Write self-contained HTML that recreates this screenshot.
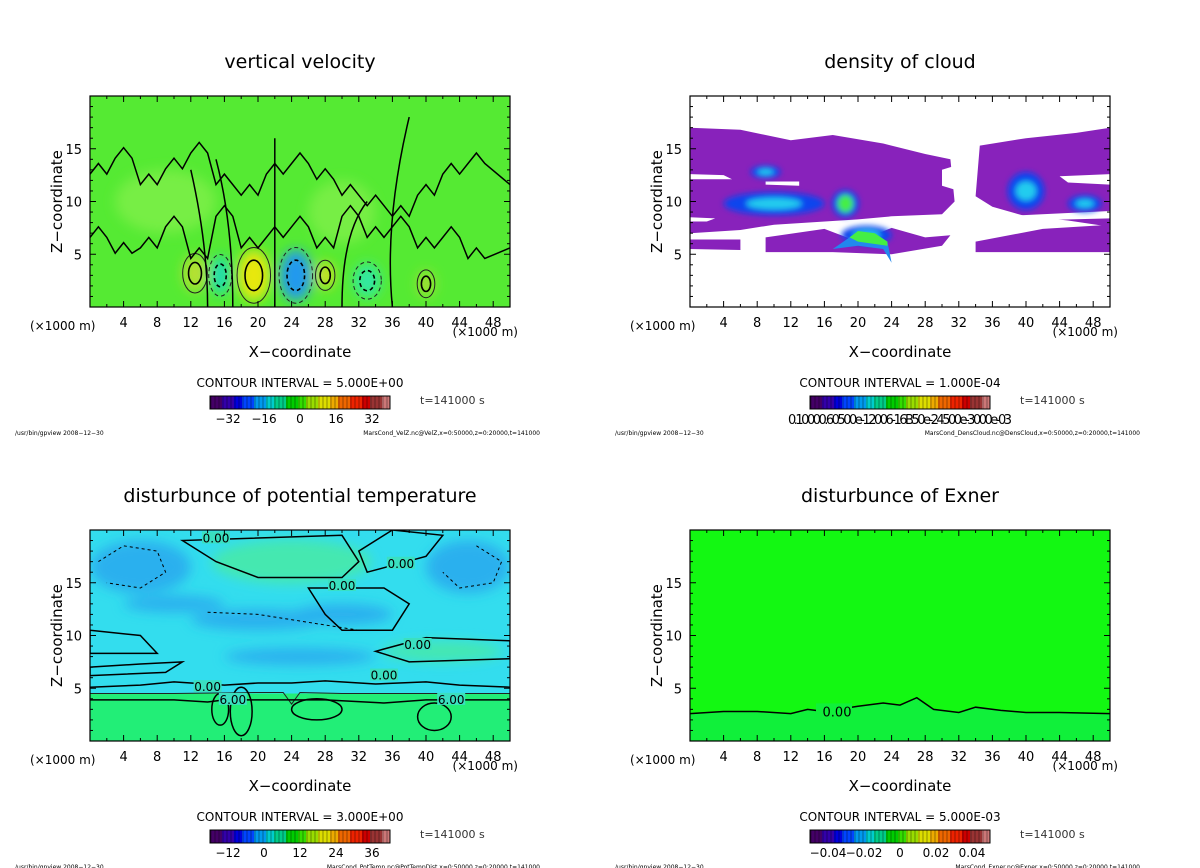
<!DOCTYPE html>
<html><head><meta charset="utf-8"><style>
html,body{margin:0;padding:0;background:#fff;}
svg{display:block;font-family:"DejaVu Sans","Liberation Sans",sans-serif;}
</style></head><body>
<svg id="fig" width="1200" height="868" viewBox="0 0 1200 868" xmlns="http://www.w3.org/2000/svg">
<defs>
<filter id="blur6" x="-50%" y="-50%" width="200%" height="200%"><feGaussianBlur stdDeviation="6"/></filter>
<filter id="blur3" x="-50%" y="-50%" width="200%" height="200%"><feGaussianBlur stdDeviation="3"/></filter>
<clipPath id="c0"><rect x="90" y="96" width="420" height="211"/></clipPath>
<clipPath id="c1"><rect x="690" y="96" width="420" height="211"/></clipPath>
<clipPath id="c2"><rect x="90" y="530" width="420" height="211"/></clipPath>
<clipPath id="c3"><rect x="690" y="530" width="420" height="211"/></clipPath>
</defs>
</svg>
<script>
// ---- data ----
const xTicks=[4,8,12,16,20,24,28,32,36,40,44,48];
const zTicks=[5,10,15];
const panelTitles=["vertical velocity","density of cloud","disturbunce of potential temperature","disturbunce of Exner"];
const intervals=["5.000E+00","1.000E-04","3.000E+00","5.000E-03"];
const cbLabels=[["−32","−16","0","16","32"],["0.10000.60500e-12006-16B50e-24500e-3000e-03"],["−12","0","12","24","36"],["−0.04","−0.02","0","0.02","0.04"]];
const files=["MarsCond_VelZ.nc@VelZ,x=0:50000,z=0:20000,t=141000","MarsCond_DensCloud.nc@DensCloud,x=0:50000,z=0:20000,t=141000","MarsCond_PotTemp.nc@PotTempDist,x=0:50000,z=0:20000,t=141000","MarsCond_Exner.nc@Exner,x=0:50000,z=0:20000,t=141000"];
// velocity blobs: x km, z km, rx km, rz km, color
const velBlobX=[12.5,19.5,28,40,15.5,24.5,33,9,30];
const velBlobZ=[3.2,3.0,3.0,2.2,3.0,3.0,2.5,10,9];
const velBlobRX=[1.4,1.9,1.1,1.0,1.3,1.9,1.6,6,4];
const velBlobRZ=[1.7,2.4,1.3,1.2,1.8,2.4,1.6,3,3];
const velBlobC=["#b8e030","#e8e810","#d0e020","#a8e030","#22ddaa","#2299ee","#33e8a0","#77ee44","#77ee44"];
// cloud
const cloudBands=[[[0,17],[6,16.8],[12,15.8],[17,16.3],[23,15.5],[28,14.5],[31,14],[31.5,10],[30,8.8],[24,8.6],[20,8.3],[10,7.8],[6,7.3],[0,7]],
 [[34.5,15.3],[40,16],[46,16.5],[50,17],[50,7.6],[45,8.2],[40,8.6],[36,9.5],[34,10.5]],
 [[0,6.4],[6,6.4],[6,5.4],[0,5.5]],[[9,6.6],[16,7.4],[20,6.2],[24,7.5],[28,6.6],[31,6.8],[30,5.8],[24,5],[17,5.2],[9,5.2]],
 [[34,6.2],[42,7.4],[50,7.8],[50,5.2],[34,5.2]]];
const cloudBlueX=[10,18.5,21,40,47,9];
const cloudBlueZ=[9.8,9.8,6.8,11,9.8,12.8];
const cloudBlueRX=[6,1.6,3,2.2,2,1.8];
const cloudBlueRZ=[1.1,1.3,0.9,1.8,0.8,0.6];
// potential temperature patches
const ptBlueX=[6,45,20,25,10,30];
const ptBlueZ=[16.5,16.5,11.5,8,13,12];
const ptBlueRX=[6,5,8,9,6,6];
const ptBlueRZ=[2.5,2.5,1,0.8,0.8,1];
// exner 0 contour
const exX=[0,4,8,12,14,16,20,23,25,27,29,32,34,37,40,44,50];
const exZ=[2.6,2.8,2.8,2.6,3.0,2.8,3.3,3.6,3.4,4.1,3.0,2.7,3.2,2.9,2.7,2.7,2.6];

const NS="http://www.w3.org/2000/svg";
const svg=document.getElementById('fig');
function mk(tag,attrs,parent){const e=document.createElementNS(NS,tag);for(const k in attrs)e.setAttribute(k,attrs[k]);(parent||svg).appendChild(e);return e;}
const PX=[90,690,90,690],PY=[96,96,530,530],W=420,H=211;
function sx(p,v){return PX[p]+v/50*W;}
function sz(p,v){return PY[p]+H-v/20*H;}
function poly(p,pts){return pts.map((q,i)=>(i?'L':'M')+sx(p,q[0]).toFixed(1)+','+sz(p,q[1]).toFixed(1)).join('')+'Z';}
function line(p,xs,zs){return xs.map((x,i)=>(i?'L':'M')+sx(p,x).toFixed(1)+','+sz(p,zs[i]).toFixed(1)).join('');}

for(let p=0;p<4;p++){
  const g=mk('g',{});
  
  
  const cx=PX[p]+W/2, dy=PY[p]-96;
  const t=mk('text',{x:cx,y:68+dy,'text-anchor':'middle','font-size':19},g);t.textContent=panelTitles[p];
  
  const pg=mk('g',{'clip-path':'url(#c'+p+')'},g);
  
  if(p===0){
    mk('rect',{x:PX[p],y:PY[p],width:W,height:H,fill:'#55ea33'},pg);
    const bg=mk('g',{filter:'url(#blur6)'},pg);
    velBlobX.forEach((x,i)=>{const e=mk('ellipse',{cx:sx(p,x),cy:sz(p,velBlobZ[i]),rx:velBlobRX[i]*W/50,ry:velBlobRZ[i]*H/20,fill:velBlobC[i]},bg);
      });
    velBlobX.slice(0,7).forEach((x,i)=>{
      mk('ellipse',{cx:sx(p,x),cy:sz(p,velBlobZ[i]),rx:velBlobRX[i]*W/50*1.05,ry:velBlobRZ[i]*H/20*1.1,fill:'none',stroke:'#222','stroke-width':1,'stroke-dasharray':i>=4?'4,3':''},pg);
      mk('ellipse',{cx:sx(p,x),cy:sz(p,velBlobZ[i]),rx:velBlobRX[i]*W/50*0.55,ry:velBlobRZ[i]*H/20*0.6,fill:'none',stroke:'#000','stroke-width':1.6,'stroke-dasharray':i>=4?'4,3':''},pg);
    });
    const lz=[[13,14.5,12,13.5,15,12,11,13,14,12.5,11,10,9,11,13,14,12],[7,5.5,6,8,5,9,6,7,8,6,9,7,8,6,7,5,6]];
    const lx=[0,3,6,9,12,15,18,21,24,27,30,33,36,39,42,45,50];
    lz.forEach(zs=>{
      const d=lx.map((x,i)=>{let s='';for(let k=0;k<3;k++){const xx=x+k;s+=(i||k?'L':'M')+sx(p,xx).toFixed(1)+','+sz(p,zs[i]+(k%2?0.6:-0.4)).toFixed(1);}return s;}).join('');
      mk('path',{d:d,fill:'none',stroke:'#000','stroke-width':1.5},pg);
    });
    [[14,0,14,6,12,13],[17,0,17,8,15,14],[22,0,22,9,22,16],[30,0,30,7,33,10],[36,0,35,8,38,18]].forEach(a=>{
      mk('path',{d:'M'+sx(p,a[0])+','+sz(p,a[1])+' Q'+sx(p,a[2])+','+sz(p,a[3])+' '+sx(p,a[4])+','+sz(p,a[5]),fill:'none',stroke:'#000','stroke-width':1.5},pg);
    });
  } else if(p===1){
    mk('rect',{x:PX[p],y:PY[p],width:W,height:H,fill:'#fff'},pg);
    cloudBands.forEach(b=>{const e=mk('path',{d:poly(p,b),fill:'#8822bb'},pg);
      });
    [[[0,12.6],[4,12.5],[5,12.1],[0,12.1]],[[9,11.9],[13,11.9],[13,11.5],[9,11.6]],[[0,8.5],[3,8.4],[2,8.1],[0,8.1]],[[37,8.6],[50,9.1],[50,8.4],[40,8.2]],[[44,12.4],[50,12.6],[50,11.6],[45,11.8]],[[30,13],[32,13.5],[32,11],[30,11.5]]].forEach(h=>mk('path',{d:poly(p,h),fill:'#fff'},pg));
    const bg=mk('g',{filter:'url(#blur3)'},pg);
    cloudBlueX.forEach((x,i)=>{mk('ellipse',{cx:sx(p,x),cy:sz(p,cloudBlueZ[i]),rx:cloudBlueRX[i]*W/50,ry:cloudBlueRZ[i]*H/20,fill:'#1144ee'},bg);
      mk('ellipse',{cx:sx(p,x),cy:sz(p,cloudBlueZ[i]),rx:cloudBlueRX[i]*W/50*0.55,ry:cloudBlueRZ[i]*H/20*0.5,fill:'#22ccee'},bg);});
    mk('ellipse',{cx:sx(p,18.5),cy:sz(p,9.8),rx:8,ry:9,fill:'#44ee44'},bg);
    mk('path',{d:poly(p,[[17,5.5],[19,6.6],[20,7.2],[22,7],[23.5,6.2],[24,4.2],[23,5.5],[20,5.8]]),fill:'#2288ee'},pg);
    mk('path',{d:poly(p,[[19,6.6],[20,7.2],[22,7],[23.5,6.2],[23.5,5.8],[20,6.2]]),fill:'#44ee44'},pg);
  } else if(p===2){
    mk('rect',{x:PX[p],y:PY[p],width:W,height:H,fill:'#33ddee'},pg);
    const bg=mk('g',{filter:'url(#blur6)'},pg);
    ptBlueX.forEach((x,i)=>{const e=mk('ellipse',{cx:sx(p,x),cy:sz(p,ptBlueZ[i]),rx:ptBlueRX[i]*W/50,ry:ptBlueRZ[i]*H/20,fill:'#2ab0ee'},bg);
      });
    mk('ellipse',{cx:sx(p,24),cy:sz(p,17),rx:80,ry:22,fill:'#44e8b0'},bg);
    mk('ellipse',{cx:sx(p,42),cy:sz(p,8.5),rx:60,ry:10,fill:'#44e8b0'},bg);
    mk('rect',{x:PX[p],y:sz(p,4.5),width:W,height:sz(p,0)-sz(p,4.5),fill:'#22ee77'},pg);
    mk('path',{d:line(p,[0,10,20,23,24,25,30,40,50],[4.5,4.5,4.6,4.6,3.5,4.6,4.5,4.5,4.5]),fill:'none',stroke:'#222','stroke-width':1},pg);
    mk('path',{d:line(p,[0,10,14,16,24,28,35,40,50],[3.9,3.9,3.7,3.9,3.9,3.9,3.6,3.9,3.9]),fill:'none',stroke:'#000','stroke-width':1.5},pg);
    mk('path',{d:line(p,[0,6,10,12,16,20,24,28,34,40,44,50],[5.1,5.3,5.6,5.5,5.3,5.5,5.5,5.7,5.4,5.6,5.3,5.1]),fill:'none',stroke:'#000','stroke-width':1.5},pg);
    mk('path',{d:poly(p,[[11,19],[15,17],[20,15.5],[30,15.5],[32,17],[30,19.5]]),fill:'none',stroke:'#000','stroke-width':1.5},pg);
    mk('path',{d:poly(p,[[33,16],[40,17.5],[42,19.5],[36,20],[32,18]]),fill:'none',stroke:'#000','stroke-width':1.5},pg);
    mk('path',{d:poly(p,[[26,14.5],[35,14.5],[38,13],[36,10.5],[30,10.5],[28,12]]),fill:'none',stroke:'#000','stroke-width':1.5},pg);
    mk('path',{d:poly(p,[[34,8.5],[40,9.8],[50,9.5],[50,7.8],[38,7.5]]),fill:'none',stroke:'#000','stroke-width':1.5},pg);
    mk('path',{d:poly(p,[[0,7],[6,7.3],[11,7.5],[9,6.5],[0,6.2]]),fill:'none',stroke:'#000','stroke-width':1.5},pg);
    mk('path',{d:poly(p,[[0,10.5],[6,10],[8,8.3],[0,8.3]]),fill:'none',stroke:'#000','stroke-width':1.5},pg);
    mk('path',{d:line(p,[14,20,28,32],[12.2,12,11,10.5]),fill:'none',stroke:'#000','stroke-width':1,'stroke-dasharray':'3,3'},pg);
    mk('path',{d:line(p,[1,4,8,9,6,2],[17,18.5,18,16,14.5,15]),fill:'none',stroke:'#000','stroke-width':1,'stroke-dasharray':'3,3'},pg);
    mk('path',{d:line(p,[46,49,48,44,42],[18.5,17,15,14.5,16]),fill:'none',stroke:'#000','stroke-width':1,'stroke-dasharray':'3,3'},pg);
    [[15.5,3,1,1.5],[18,2.8,1.3,2.3],[27,3,3,1],[41,2.3,2,1.3]].forEach(a=>mk('ellipse',{cx:sx(p,a[0]),cy:sz(p,a[1]),rx:a[2]*W/50,ry:a[3]*H/20,fill:'none',stroke:'#000','stroke-width':1.5},pg));
    [['0.00',15,19.2],['0.00',37,16.8],['0.00',30,14.7],['0.00',39,9.1],['0.00',35,6.2],['0.00',14,5.1],['6.00',17,3.9],['6.00',43,3.9]].forEach(l=>{
      mk('rect',{x:sx(p,l[1])-14,y:sz(p,l[2])-7,width:28,height:12,fill:'#3ae0c0'},pg);
      const e=mk('text',{x:sx(p,l[1]),y:sz(p,l[2])+4,'text-anchor':'middle','font-size':12},pg);e.textContent=l[0];});
  } else {
    mk('rect',{x:PX[p],y:PY[p],width:W,height:H,fill:'#13f812'},pg);
    mk('path',{d:line(p,exX,exZ)+'L'+sx(p,50)+','+sz(p,0)+'L'+sx(p,0)+','+sz(p,0)+'Z',fill:'#10f03a'},pg);
    const c=mk('path',{d:line(p,exX,exZ),fill:'none',stroke:'#000','stroke-width':1.5},pg);
    
    mk('rect',{x:sx(p,15),y:sz(p,2.9)-7,width:36,height:13,fill:'#10f03a'},pg);
    const e=mk('text',{x:sx(p,17.5),y:sz(p,2.8)+5,'text-anchor':'middle','font-size':13},pg);e.textContent='0.00';
  }
  mk('rect',{x:PX[p],y:PY[p],width:W,height:H,fill:'none',stroke:'#000','stroke-width':1.2},g);
  for(let v=2;v<50;v+=2){const L=v%4===0?6:3;
    mk('line',{x1:sx(p,v),x2:sx(p,v),y1:PY[p]+H,y2:PY[p]+H-L,stroke:'#000'},g);
    mk('line',{x1:sx(p,v),x2:sx(p,v),y1:PY[p],y2:PY[p]+L,stroke:'#000'},g);}
  for(let v=1;v<20;v++){const L=v%5===0?6:3;
    mk('line',{x1:PX[p],x2:PX[p]+L,y1:sz(p,v),y2:sz(p,v),stroke:'#000'},g);
    mk('line',{x1:PX[p]+W,x2:PX[p]+W-L,y1:sz(p,v),y2:sz(p,v),stroke:'#000'},g);}
  xTicks.forEach(v=>{const e=mk('text',{x:sx(p,v),y:PY[p]+H+20,'text-anchor':'middle','font-size':13},g);e.textContent=v;
    });
  zTicks.forEach(v=>{const e=mk('text',{x:PX[p]-8,y:sz(p,v)+5,'text-anchor':'end','font-size':13},g);e.textContent=v;
    });
  let e=mk('text',{x:PX[p]-60,y:PY[p]+H+23,'font-size':12},g);e.textContent='(×1000 m)';
  e=mk('text',{x:PX[p]+W+8,y:PY[p]+H+29,'text-anchor':'end','font-size':12},g);e.textContent='(×1000 m)';
  e=mk('text',{x:cx,y:PY[p]+H+50,'text-anchor':'middle','font-size':15},g);e.textContent='X−coordinate';
  
  e=mk('text',{x:PX[p]-28,y:PY[p]+H/2,'text-anchor':'middle','font-size':15,transform:'rotate(-90 '+(PX[p]-28)+' '+(PY[p]+H/2)+')'},g);e.textContent='Z−coordinate';
  
  e=mk('text',{x:cx,y:387+dy,'text-anchor':'middle','font-size':12},g);e.textContent='CONTOUR INTERVAL = '+intervals[p];
  const cb=mk('g',{},g);
  const cols=['#440066','#3300aa','#0000dd','#0044ff','#0099ee','#00cccc','#00cc88','#00cc00','#33dd00','#99dd00','#dddd00','#eeaa00','#ee6600','#ee2200','#cc0000','#993333','#cc7777'];
  const bx=cx-90,by=396+dy,bw=180,n=45;
  for(let i=0;i<n;i++){const c=cols[Math.floor(i/n*cols.length)];
    mk('rect',{x:bx+i*bw/n,y:by,width:bw/n+0.3,height:13,fill:c},cb);
    mk('line',{x1:bx+i*bw/n+1,x2:bx+i*bw/n+1,y1:by,y2:by+13,stroke:'#000','stroke-opacity':0.45,'stroke-width':0.8},cb);}
  mk('rect',{x:bx,y:by,width:bw,height:13,fill:'none',stroke:'#000'},cb);
  const lab=cbLabels[p];
  if(lab.length===1){e=mk('text',{x:cx,y:by+28,'text-anchor':'middle','font-size':13,'textLength':224},cb);e.textContent=lab[0];}
  else lab.forEach((s,i)=>{e=mk('text',{x:bx+(18+i*36),y:by+27,'text-anchor':'middle','font-size':12},cb);e.textContent=s;});
  e=mk('text',{x:cx+120,y:404+dy,'font-size':11,fill:'#333'},g);e.textContent='t=141000 s';
  e=mk('text',{x:PX[p]-75,y:435+dy,'font-size':6},g);e.textContent='/usr/bin/gpview  2008−12−30';
  e=mk('text',{x:PX[p]+W+30,y:435+dy,'text-anchor':'end','font-size':6},g);e.textContent=files[p];
}
</script>
</body></html>
